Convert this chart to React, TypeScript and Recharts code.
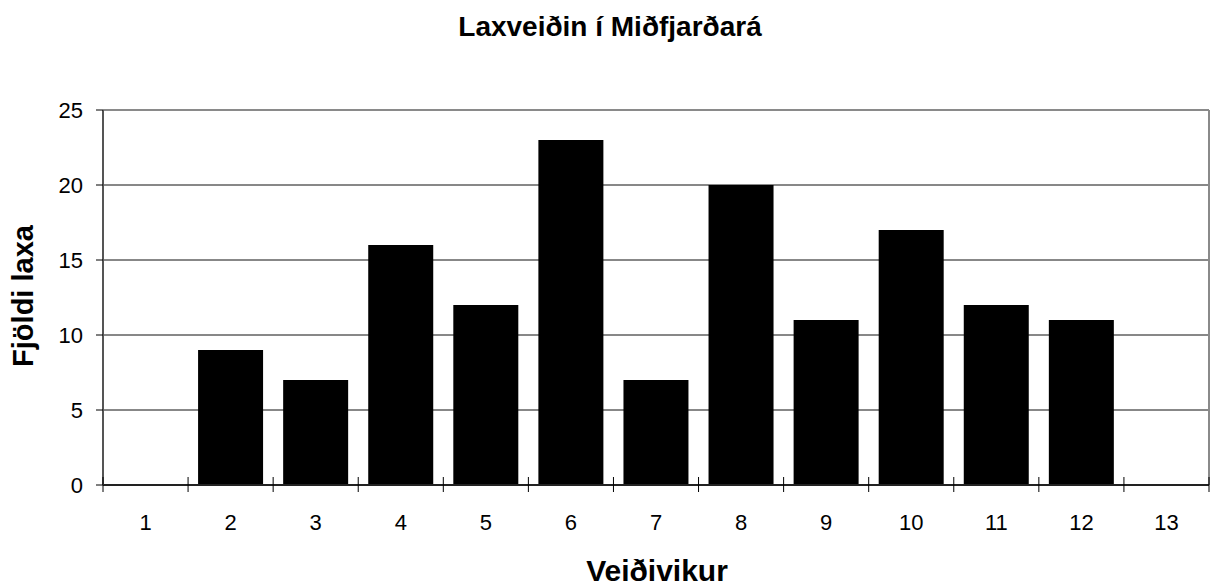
import { BarChart, Bar, XAxis, YAxis, CartesianGrid } from "recharts";

const weeks = ["1", "2", "3", "4", "5", "6", "7", "8", "9", "10", "11", "12", "13"];
const salmon = [0, 9, 7, 16, 12, 23, 7, 20, 11, 17, 12, 11, 0];
const yTicks = [0, 5, 10, 15, 20, 25];

const data = weeks.map((w, i) => ({ week: w, count: salmon[i] }));

const FONT = "'Liberation Sans', Arial, sans-serif";

// category label plus a tick mark on the boundary between categories
function WeekTick(props: any) {
  const { x, y, payload, index } = props;
  const half = payload?.offset ?? 0;
  return (
    <g>
      <line x1={x - half} x2={x - half} y1={y - 8} y2={y + 7} stroke="#000" />
      {index === weeks.length - 1 && (
        <line x1={x + half} x2={x + half} y1={y - 8} y2={y + 7} stroke="#000" />
      )}
      <text x={x} y={y + 45} textAnchor="middle" fontSize={22} fontFamily={FONT} fill="#000">
        {payload.value}
      </text>
    </g>
  );
}

export default function App() {
  return (
    <div style={{ position: "relative", width: 1210, height: 587, background: "#fff" }}>
      <style>{"body{margin:0}"}</style>
      <BarChart
        width={1210}
        height={587}
        data={data}
        margin={{ top: 110, right: 1, bottom: 0, left: 0 }}
        barCategoryGap={10}
      >
        <CartesianGrid vertical={false} stroke="#111" />
        <CartesianGrid
          stroke="#8a8a8a"
          strokeWidth={2}
          horizontalCoordinatesGenerator={({ offset }: any) => [offset.top]}
          verticalCoordinatesGenerator={({ offset }: any) => [offset.left + offset.width]}
        />
        <XAxis
          dataKey="week"
          height={102}
          tickLine={false}
          tickSize={0}
          tickMargin={0}
          axisLine={{ stroke: "#222", strokeWidth: 2 }}
          tick={<WeekTick />}
          interval={0}
        />
        <YAxis
          width={103}
          domain={[0, 25]}
          ticks={yTicks}
          tickSize={7}
          tickMargin={13}
          tickLine={{ stroke: "#000" }}
          axisLine={{ stroke: "#555", strokeWidth: 2 }}
          tick={{ fontSize: 22, fontFamily: FONT, fill: "#000" }}
        />
        <Bar dataKey="count" fill="#000" isAnimationActive={false} />
      </BarChart>
      <svg
        width={1210}
        height={587}
        style={{ position: "absolute", left: 0, top: 0, pointerEvents: "none" }}
      >
        <text x={610} y={36} textAnchor="middle" fontSize={28} fontWeight="bold" fontFamily={FONT}>
          Laxveiðin í Miðfjarðará
        </text>
        <text
          x={33}
          y={296}
          textAnchor="middle"
          fontSize={29}
          fontWeight="bold"
          fontFamily={FONT}
          transform="rotate(-90, 33, 296)"
        >
          Fjöldi laxa
        </text>
        <text x={657} y={581} textAnchor="middle" fontSize={30} fontWeight="bold" fontFamily={FONT}>
          Veiðivikur
        </text>
      </svg>
    </div>
  );
}
